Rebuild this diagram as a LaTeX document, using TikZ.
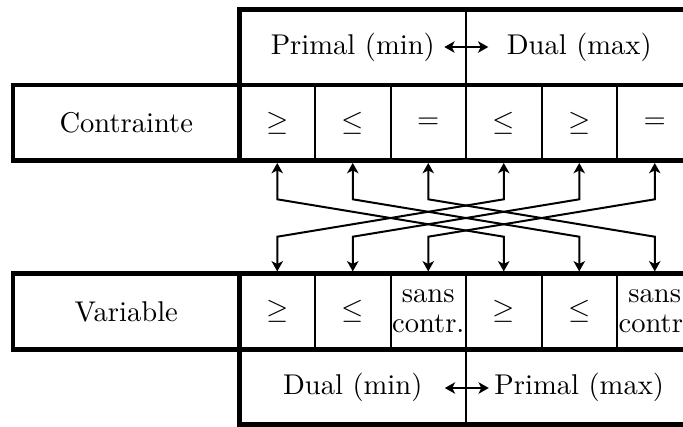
\documentclass[tikz,border=0pt]{standalone}
\usetikzlibrary{arrows.meta,calc}
\begin{document}
\begin{tikzpicture}[x=0.35pt,y=-0.35pt,
  cell/.style={draw,line width=0.7pt,rectangle,minimum width=26.425pt,minimum height=26.425pt,inner sep=0pt,outer sep=0pt,align=center},
  labelbox/.style={cell,minimum width=79.275pt},
  headbox/.style={labelbox,line width=1pt},
  border/.style={line width=1.6pt},
  tip/.tip={Stealth[length=3.6pt,width=4pt,inset=1pt]},
  conn/.style={line width=0.7pt,tip-tip,shorten <=0.8pt,shorten >=0.8pt},
  twoway/.style={line width=0.8pt,tip-tip}]
\clip (0,0) rectangle (683,426);
% header rows
\node[headbox] (hp) at (352.75,47.45) {Primal (min)};
\node[headbox] (hd) at (579.25,47.45) {Dual (max)};
\node[headbox] (bd) at (352.75,386.95) {Dual (min)};
\node[headbox] (bp) at (579.25,386.95) {Primal (max)};
% label boxes
\node[labelbox] (lc) at (126.25,122.95) {Contrainte};
\node[labelbox] (lv) at (126.25,311.45) {Variable};
% cells
\foreach \i/\t in {1/{$\geq$},2/{$\leq$},3/{$=$},4/{$\leq$},5/{$\geq$},6/{$=$}}
  \node[cell] (c\i) at ({239.5+(\i-0.5)*75.5},122.95) {\t};
\foreach \i/\t in {1/{$\geq$},2/{$\leq$},3/{sans\\[-1.5pt]contr.},4/{$\geq$},5/{$\leq$},6/{sans\\[-1.5pt]contr.}}
  \node[cell] (v\i) at ({239.5+(\i-0.5)*75.5},311.45) {\t};
% thick borders
\draw[border] (lc.north west) rectangle (c6.south east);
\draw[border] (c1.north west) -- (c1.south west);
\draw[border] (lv.north west) rectangle (v6.south east);
\draw[border] (v1.north west) -- (v1.south west);
\draw[border] (hp.south west) -- (hp.north west) -- (hd.north east);
\draw[border] (bd.north west) -- (bd.south west) -- (bp.south east);
% header arrows
\coordinate (ha1) at (444.3,47);
\coordinate (ha2) at (488.3,47);
\coordinate (hb1) at (444.8,388);
\coordinate (hb2) at (488.8,388);
\draw[twoway] (ha1) -- (ha2);
\draw[twoway] (hb1) -- (hb2);
% crossing connectors
\foreach \a/\b in {1/4,2/5,3/6,4/1,5/2,6/3}
  \draw[conn] (c\a.south) -- ++(0,38.6) -- ($(v\b.north)+(0,-37)$) -- (v\b.north);
\end{tikzpicture}
\end{document}
